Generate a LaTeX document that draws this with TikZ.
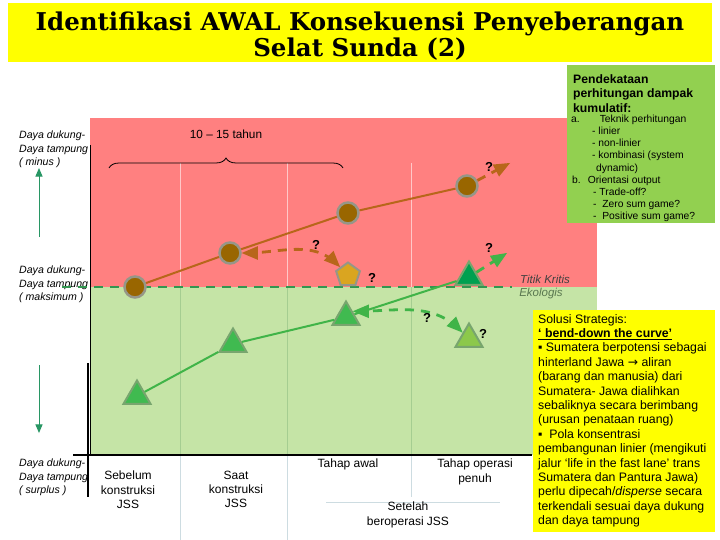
\documentclass[tikz,border=0pt]{standalone}
\usepackage{fontspec}
\setmainfont{Liberation Sans}
\newfontfamily\titlefont{DejaVu Serif}
\newfontfamily\symfont{DejaVu Sans}
\usetikzlibrary{arrows,positioning,shapes.geometric,decorations.pathreplacing}

\definecolor{zonered}{RGB}{255,128,128}
\definecolor{zonegreen}{RGB}{197,228,166}
\definecolor{boxgreen}{RGB}{146,208,80}
\definecolor{boxyellow}{RGB}{255,255,0}
\definecolor{soilbrown}{RGB}{153,102,0}
\definecolor{trendbrown}{RGB}{184,102,26}
\definecolor{rimgray}{RGB}{150,150,135}
\definecolor{paleyellow}{RGB}{218,165,32}
\definecolor{leafgreen}{RGB}{64,186,80}
\definecolor{deepgreen}{RGB}{0,160,80}
\definecolor{limegreen}{RGB}{140,200,75}
\definecolor{tririm}{RGB}{120,165,110}
\definecolor{trendgreen}{RGB}{64,180,72}
\definecolor{limitgreen}{RGB}{50,150,80}
\definecolor{axisgreen}{RGB}{40,150,100}

\begin{document}
\begin{tikzpicture}[x=1pt,y=-1pt,>=triangle 45,
  impact/.style={circle,draw=rimgray,line width=2.5pt,fill=soilbrown,minimum size=21pt,inner sep=0pt},
  capacity/.style={regular polygon,regular polygon sides=3,draw=tririm,line width=2pt,fill=leafgreen,minimum size=31pt,inner sep=0pt},
  ask/.style={font=\fontsize{13}{13}\selectfont\bfseries,inner sep=0pt},
  level/.style={anchor=north west,align=left,inner sep=0pt,font=\fontsize{10.6}{13.2}\selectfont\itshape},
  phase/.style={anchor=north,align=center,inner sep=0pt,font=\fontsize{12}{14.2}\selectfont},
  grid red/.style={draw={rgb,255:red,255;green,200;blue,200},line width=0.8pt},
  grid green/.style={draw={rgb,255:red,165;green,205;blue,145},line width=0.8pt},
  grid pale/.style={draw={rgb,255:red,205;green,220;blue,225},line width=0.8pt},
  guess/.style={line width=2.8pt,dash pattern=on 9pt off 7pt},
]
\useasboundingbox (0,0) rectangle (720,540);

% title
\fill[boxyellow] (8,3) rectangle (712,62);
\node[align=center,inner sep=0pt,font=\titlefont\fontsize{24.5}{26.5}\selectfont\bfseries] (title) at (360,36)
  {Identifikasi AWAL Konsekuensi Penyeberangan\\Selat Sunda (2)};

% levels on the left
\node[level] (lvlminus) at (19,131) {Daya dukung-\\Daya tampung\\( minus )};
\node[level] (lvlmax) at (19,266) {Daya dukung-\\Daya tampung\\( maksimum )};
\node[level] (lvlplus) at (19,459) {Daya dukung-\\Daya tampung\\( surplus )};
\coordinate (upfrom) at (39,237);
\coordinate (upto) at (39,168);
\coordinate (downfrom) at (39,365);
\coordinate (downto) at (39,433);
\draw[->,axisgreen,line width=1pt] (upfrom) -- (upto);
\draw[->,axisgreen,line width=1pt] (downfrom) -- (downto);

% zones
\fill[zonered] (90,118) rectangle (597,287);
\fill[zonegreen] (90,287) rectangle (597,455);

% grid
\foreach \gx in {180,287,411} {
  \draw[grid red] (\gx,163) -- (\gx,287);
  \draw[grid green] (\gx,287) -- (\gx,455);
}
\draw[grid pale] (180,455) -- (180,540);
\draw[grid pale] (287,455) -- (287,540);
\draw[grid pale] (411,455) -- (411,497);
\draw[grid pale] (326,502) -- (500,502);

% critical limit
\draw[limitgreen,line width=2.5pt,dash pattern=on 9pt off 7pt] (62,287) -- (512,287);
\node[inner sep=0pt,font=\fontsize{11.5}{12}\selectfont\itshape,text=black!75] (kritis) at (545,279) {Titik Kritis};
\node[inner sep=0pt,font=\fontsize{11.5}{12}\selectfont\itshape,text={rgb,255:red,90;green,120;blue,80}] (ekologis) at (541,294) {Ekologis};

% axes
\draw[line width=1pt] (90,145) -- (90,455);
\draw[line width=2.5pt] (88,363) -- (88,497);
\draw[line width=2.5pt] (73,455) -- (532,455);

% period
\draw[decorate,decoration={brace,amplitude=10pt},line width=0.8pt] (109,168) -- (343,168);
\node[inner sep=0pt,font=\fontsize{11.8}{12}\selectfont] (period) at (226,134) {10 -- 15 tahun};

% impact (brown)
\node[impact] (c1) at (135,287) {};
\node[impact] (c2) at (230,253) {};
\node[impact] (c3) at (348,213) {};
\node[impact] (c4) at (467,186) {};
\node[regular polygon,regular polygon sides=5,draw=rimgray,line width=2pt,fill=paleyellow,minimum size=25pt,inner sep=0pt] (c5) at (348,275) {};
\coordinate (c4next) at (510,163);

% capacity (green)
\node[capacity] (t1) at (137,396) {};
\node[capacity] (t2) at (233,344) {};
\node[capacity] (t3) at (346,317) {};
\node[capacity,fill=deepgreen] (t4) at (469,277) {};
\node[capacity,fill=limegreen] (t5) at (469,339) {};
\coordinate (t4next) at (507,253);

\path[trendbrown,line width=2pt]
  (c1) edge (c2)
  (c2) edge (c3)
  (c3) edge (c4);
\path[trendbrown,guess]
  (c4) edge[->] (c4next)
  (c2) edge[<->,out=0,in=135] (c5);

\path[trendgreen,line width=2pt]
  (t1) edge (t2)
  (t2) edge (t3)
  (t3) edge (t4);
\path[trendgreen,guess]
  (t4) edge[->] (t4next)
  (t3.40) edge[<->,out=0,in=135] (t5);

\node[ask] (q1) at (489,167) {?};
\node[ask] (q2) at (316,245) {?};
\node[ask] (q3) at (372,278) {?};
\node[ask] (q4) at (489,248) {?};
\node[ask] (q5) at (427,318) {?};
\node[ask] (q6) at (483,334) {?};

% phases
\node[phase] (sebelum) at (128,471) {Sebelum\\konstruksi\\JSS};
\node[phase] (saat) at (236,471) {Saat\\konstruksi\\JSS};
\node[phase] (awal) at (348,459) {Tahap awal};
\node[phase] (penuh) at (475,459) {Tahap operasi\\penuh};
\node[phase] (setelah) at (408,502) {Setelah\\beroperasi JSS};

% approach box
\fill[boxgreen] (567,65) rectangle (715,223);
\node[anchor=north west,align=left,inner sep=0pt,font=\fontsize{12.2}{14.5}\selectfont\bfseries] (approach) at (573,74)
  {Pendekataan\\perhitungan dampak\\kumulatif:};
\node[anchor=north west,align=left,inner sep=0pt,font=\fontsize{10.3}{12.1}\selectfont] (methods) at (571,115)
  {a.\hspace*{20pt}Teknik perhitungan\\
   \hspace*{21pt}- linier\\
   \hspace*{21pt}- non-linier\\
   \hspace*{21pt}- kombinasi (system\\
   \hspace*{25pt}dynamic)\\
   \hspace*{1pt}b.\hspace*{7pt}Orientasi output\\
   \hspace*{22pt}- Trade-off?\\
   \hspace*{22pt}-\ \ Zero sum game?\\
   \hspace*{22pt}-\ \ Positive sum game?};

% strategy box
\fill[boxyellow] (533,310) rectangle (715,532);
\node[anchor=north west,align=left,inner sep=0pt,font=\fontsize{12.3}{14.4}\selectfont] (strategy) at (538,314)
  {Solusi Strategis:\\
   \underline{\textbf{‘ bend-down the curve’}}\\
   ▪ Sumatera berpotensi sebagai\\
   hinterland Jawa {\symfont →} aliran\\
   (barang dan manusia) dari\\
   Sumatera- Jawa dialihkan\\
   sebaliknya secara berimbang\\
   (urusan penataan ruang)\\
   ▪\ \ Pola konsentrasi\\
   pembangunan linier (mengikuti\\
   jalur ‘life in the fast lane’ trans\\
   Sumatera dan Pantura Jawa)\\
   perlu dipecah/\textit{disperse} secara\\
   terkendali sesuai daya dukung\\
   dan daya tampung};
\end{tikzpicture}
\end{document}
